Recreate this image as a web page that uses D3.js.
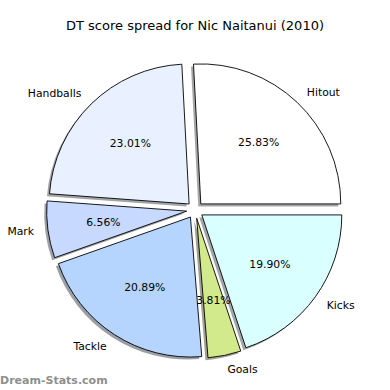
<!DOCTYPE html>
<html>
<head>
<meta charset="utf-8">
<script src="https://cdn.jsdelivr.net/npm/d3@7"></script>
<style>
  html, body { margin: 0; padding: 0; background: #fff; }
  svg { display: block; font-family: "DejaVu Sans", sans-serif; }
</style>
</head>
<body>
<svg id="chart" width="390" height="390"></svg>
<script>
// DT score breakdown, percent of total
const categories = ["Hitout", "Handballs", "Mark", "Tackle", "Goals", "Kicks"];
const values = [25.83, 23.01, 6.56, 20.89, 3.81, 19.90];
const colors = ["#ffffff", "#e9f0ff", "#c8d9ff", "#b5d5ff", "#d2e98c", "#d9ffff"];
const explode = [0.06, 0.06, 0.06, 0.06, 0.06, 0.06];

const width = 390, height = 390;
const cx = 195, cy = 210, R = 140;

const svg = d3.select("#chart");

svg.append("text")
  .attr("x", width / 2).attr("y", 30)
  .attr("text-anchor", "middle")
  .attr("font-size", "13px")
  .attr("fill", "#000")
  .text("DT score spread for Nic Naitanui (2010)");

// Counter-clockwise from 3 o'clock, like a classic pie
const pie = d3.pie().sort(null).value(d => d.value)
  .startAngle(Math.PI / 2).endAngle(Math.PI / 2 - 2 * Math.PI);

const data = categories.map((c, i) => ({ name: c, value: values[i], color: colors[i], explode: explode[i] }));
const arcs = pie(data);

const r = d3.scaleLinear().domain([0, 1]).range([0, R]);
const arc = d3.arc().innerRadius(0).outerRadius(r(1));

function offset(d) {
  const m = (d.startAngle + d.endAngle) / 2;
  const e = r(d.data.explode);
  return [cx + e * Math.sin(m), cy - e * Math.cos(m), m];
}

const g = svg.append("g");
const shadowOff = 2.5;

// shadows underneath every wedge
g.selectAll("path.shadow").data(arcs).join("path")
  .attr("class", "shadow")
  .attr("transform", d => { const [x, y] = offset(d); return `translate(${x - shadowOff},${y + shadowOff})`; })
  .attr("d", arc)
  .attr("fill", d => { const c = d3.rgb(d.data.color); return d3.rgb(c.r * 0.3, c.g * 0.3, c.b * 0.3); })
  .attr("fill-opacity", 0.5);

g.selectAll("path.wedge").data(arcs).join("path")
  .attr("class", "wedge")
  .attr("transform", d => { const [x, y] = offset(d); return `translate(${x},${y})`; })
  .attr("d", arc)
  .attr("fill", d => d.data.color)
  .attr("stroke", "#000")
  .attr("stroke-width", 0.9)
  .attr("stroke-linejoin", "miter");

// category labels outside
g.selectAll("text.label").data(arcs).join("text")
  .attr("class", "label")
  .attr("x", d => { const [x, , m] = offset(d); return x + r(1.1) * Math.sin(m); })
  .attr("y", d => { const [, y, m] = offset(d); return y - r(1.1) * Math.cos(m); })
  .attr("text-anchor", d => { const [, , m] = offset(d); return Math.sin(m) > 0 ? "start" : "end"; })
  .attr("dominant-baseline", "central")
  .attr("font-size", "10.8px")
  .attr("fill", "#000")
  .text(d => d.data.name);

// percentage labels inside
g.selectAll("text.pct").data(arcs).join("text")
  .attr("class", "pct")
  .attr("x", d => { const [x, , m] = offset(d); return x + r(0.6) * Math.sin(m); })
  .attr("y", d => { const [, y, m] = offset(d); return y - r(0.6) * Math.cos(m); })
  .attr("text-anchor", "middle")
  .attr("dominant-baseline", "central")
  .attr("font-size", "10.8px")
  .attr("fill", "#000")
  .text(d => d3.format(".2f")(d.data.value) + "%");

svg.append("text")
  .attr("x", 0).attr("y", 384)
  .attr("font-size", "11px")
  .attr("font-weight", "bold")
  .attr("fill", "#8f8f8f")
  .text("Dream-Stats.com");
</script>
</body>
</html>
